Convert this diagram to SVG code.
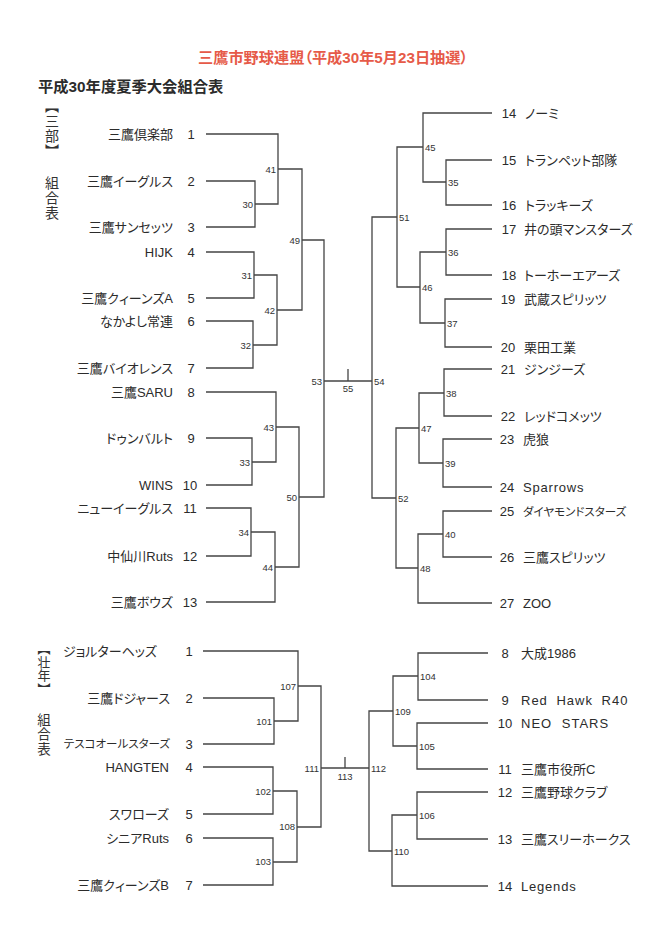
<svg xmlns="http://www.w3.org/2000/svg" width="645" height="949" viewBox="0 0 645 949">
<style>
.bg{fill:#ffffff}
.title{font-family:"Liberation Sans","Noto Sans CJK JP",sans-serif;font-size:15.2px;font-weight:bold;fill:#e65a48;font-feature-settings:"palt"}
.sub{font-family:"Liberation Sans","Noto Sans CJK JP",sans-serif;font-size:15.3px;font-weight:bold;fill:#2b2b2b;font-feature-settings:"palt"}
.vert{font-family:"Noto Sans CJK JP",sans-serif;font-size:14px;letter-spacing:1px;fill:#333;writing-mode:vertical-rl}
.nm{font-family:"Liberation Sans","Noto Sans CJK JP",sans-serif;font-size:13px;fill:#2b2b2b;font-feature-settings:"palt"}
.sm{font-size:11.5px}
.num{font-family:"Liberation Sans",sans-serif;font-size:13px;fill:#2b2b2b;text-anchor:middle}
.l{text-anchor:end}
.lb{font-family:"Liberation Sans",sans-serif;font-size:9.5px;fill:#333}
.lbl{text-anchor:end}
.lbm{text-anchor:middle}
.c path{fill:none;stroke:#444;stroke-width:1.3}
</style>
<rect class="bg" x="0" y="0" width="645" height="949"/>
<g id="header">
<text class="title" x="198" y="63">三鷹市野球連盟（平成30年5月23日抽選）</text>
<text class="sub" x="38" y="92">平成30年度夏季大会組合表</text>
</g>
<g id="section-sanbu-label">
<text class="vert" x="52" y="99">【三部】</text>
<text class="vert" x="52" y="176">組合表</text>
</g>
<g id="section-sonen-label">
<text class="vert" x="44" y="642" style="font-size:13px;letter-spacing:0.5px">【壮年】</text>
<text class="vert" x="44" y="713" style="font-size:13.5px">組合表</text>
</g>
<g class="c" id="connectors">
<path d="M206 134H278V204H255"/>
<path d="M206 181H255V227H206"/>
<path d="M278 169H302V310H277"/>
<path d="M206 252H254V298H206"/>
<path d="M254 275H277V345H253"/>
<path d="M206 321H253V368H206"/>
<path d="M302 240H324V497H299"/>
<path d="M206 392H276V462H252"/>
<path d="M206 438H252V485H206"/>
<path d="M276 427H299V567H275"/>
<path d="M206 508H251V556H206"/>
<path d="M251 532H275V602H206"/>
<path d="M324 381H372"/>
<path d="M348 369V381"/>
<path d="M492 113H423V182H446"/>
<path d="M492 160H446V205H492"/>
<path d="M423 147H397V287H420"/>
<path d="M492 229H446V275H492"/>
<path d="M446 252H420V323H445"/>
<path d="M492 299H445V347H492"/>
<path d="M397 217H372V498H396"/>
<path d="M492 369H444V416H492"/>
<path d="M444 393H419V463H443"/>
<path d="M492 439H443V487H492"/>
<path d="M419 428H396V568H418"/>
<path d="M492 511H443V557H492"/>
<path d="M443 534H418V603H492"/>
<path d="M203 651H298V721H274"/>
<path d="M203 698H274V744H203"/>
<path d="M298 686H321V827H297"/>
<path d="M203 767H273V814H203"/>
<path d="M273 791H297V862H273"/>
<path d="M203 838H273V885H203"/>
<path d="M321 768H369"/>
<path d="M345 757V768"/>
<path d="M488 653H418V700H488"/>
<path d="M418 676H393V746H417"/>
<path d="M488 723H417V769H488"/>
<path d="M393 711H369V851H392"/>
<path d="M488 792H417V839H488"/>
<path d="M417 815H392V886H488"/>
</g>
<g id="teams-sanbu-left">
<g id="t1"><text class="nm l" x="173" y="138.5">三鷹倶楽部</text><text class="num" x="191" y="138.5">1</text></g>
<g id="t2"><text class="nm l" x="173" y="185.5">三鷹イーグルス</text><text class="num" x="191" y="185.5">2</text></g>
<g id="t3"><text class="nm l" x="173" y="231.5">三鷹サンセッツ</text><text class="num" x="191" y="231.5">3</text></g>
<g id="t4"><text class="nm l" x="173" y="256.5">HIJK</text><text class="num" x="191" y="256.5">4</text></g>
<g id="t5"><text class="nm l" x="173" y="302.5">三鷹クィーンズA</text><text class="num" x="191" y="302.5">5</text></g>
<g id="t6"><text class="nm l" x="173" y="325.5">なかよし常連</text><text class="num" x="191" y="325.5">6</text></g>
<g id="t7"><text class="nm l" x="173" y="372.5">三鷹バイオレンス</text><text class="num" x="191" y="372.5">7</text></g>
<g id="t8"><text class="nm l" x="173" y="396.5">三鷹SARU</text><text class="num" x="191" y="396.5">8</text></g>
<g id="t9"><text class="nm l" x="173" y="442.5">ドゥンバルト</text><text class="num" x="191" y="442.5">9</text></g>
<g id="t10"><text class="nm l" x="173" y="489.5">WINS</text><text class="num" x="190" y="489.5">10</text></g>
<g id="t11"><text class="nm l" x="173" y="512.5">ニューイーグルス</text><text class="num" x="190" y="512.5">11</text></g>
<g id="t12"><text class="nm l" x="173" y="560.5">中仙川Ruts</text><text class="num" x="190" y="560.5">12</text></g>
<g id="t13"><text class="nm l" x="173" y="606.5">三鷹ボウズ</text><text class="num" x="190" y="606.5">13</text></g>
</g>
<g id="teams-sanbu-right">
<g id="t14"><text class="num" x="509" y="117.5">14</text><text class="nm" x="525" y="117.5">ノーミ</text></g>
<g id="t15"><text class="num" x="509" y="164.5">15</text><text class="nm" x="525" y="164.5">トランペット部隊</text></g>
<g id="t16"><text class="num" x="509" y="209.5">16</text><text class="nm" x="525" y="209.5">トラッキーズ</text></g>
<g id="t17"><text class="num" x="509" y="233.5">17</text><text class="nm" x="524" y="233.5">井の頭マンスターズ</text></g>
<g id="t18"><text class="num" x="509" y="279.5">18</text><text class="nm" x="524" y="279.5">トーホーエアーズ</text></g>
<g id="t19"><text class="num" x="508" y="303.5">19</text><text class="nm" x="524" y="303.5">武蔵スピリッツ</text></g>
<g id="t20"><text class="num" x="508" y="351.5">20</text><text class="nm" x="524" y="351.5">栗田工業</text></g>
<g id="t21"><text class="num" x="508" y="373.5">21</text><text class="nm" x="524" y="373.5">ジンジーズ</text></g>
<g id="t22"><text class="num" x="508" y="420.5">22</text><text class="nm" x="524" y="420.5">レッドコメッツ</text></g>
<g id="t23"><text class="num" x="507" y="443.5">23</text><text class="nm" x="523" y="443.5">虎狼</text></g>
<g id="t24"><text class="num" x="507" y="491.5">24</text><text class="nm" x="523" y="491.5" style="letter-spacing:0.8px">Sparrows</text></g>
<g id="t25"><text class="num" x="507" y="515.5">25</text><text class="nm sm" x="523" y="515.5">ダイヤモンドスターズ</text></g>
<g id="t26"><text class="num" x="507" y="561.5">26</text><text class="nm" x="523" y="561.5">三鷹スピリッツ</text></g>
<g id="t27"><text class="num" x="507" y="607.5">27</text><text class="nm" x="523" y="607.5">ZOO</text></g>
</g>
<g id="matches-sanbu">
<g id="m30"><text class="lb lbl" x="253" y="207.5">30</text></g>
<g id="m31"><text class="lb lbl" x="252" y="278.5">31</text></g>
<g id="m32"><text class="lb lbl" x="251" y="348.5">32</text></g>
<g id="m33"><text class="lb lbl" x="250" y="465.5">33</text></g>
<g id="m34"><text class="lb lbl" x="249" y="535.5">34</text></g>
<g id="m41"><text class="lb lbl" x="276" y="172.5">41</text></g>
<g id="m42"><text class="lb lbl" x="275" y="313.5">42</text></g>
<g id="m43"><text class="lb lbl" x="274" y="430.5">43</text></g>
<g id="m44"><text class="lb lbl" x="273" y="570.5">44</text></g>
<g id="m49"><text class="lb lbl" x="300" y="243.5">49</text></g>
<g id="m50"><text class="lb lbl" x="297" y="500.5">50</text></g>
<g id="m53"><text class="lb lbl" x="322" y="384.5">53</text></g>
<g id="m55"><text class="lb lbm" x="348" y="392">55</text></g>
<g id="m54"><text class="lb" x="374" y="384.5">54</text></g>
<g id="m35"><text class="lb" x="448" y="185.5">35</text></g>
<g id="m36"><text class="lb" x="448" y="255.5">36</text></g>
<g id="m37"><text class="lb" x="447" y="326.5">37</text></g>
<g id="m38"><text class="lb" x="446" y="396.5">38</text></g>
<g id="m39"><text class="lb" x="445" y="466.5">39</text></g>
<g id="m40"><text class="lb" x="445" y="537.5">40</text></g>
<g id="m45"><text class="lb" x="425" y="150.5">45</text></g>
<g id="m46"><text class="lb" x="422" y="290.5">46</text></g>
<g id="m47"><text class="lb" x="421" y="431.5">47</text></g>
<g id="m48"><text class="lb" x="420" y="571.5">48</text></g>
<g id="m51"><text class="lb" x="399" y="220.5">51</text></g>
<g id="m52"><text class="lb" x="398" y="501.5">52</text></g>
</g>
<g id="teams-sonen-left">
<g id="s1"><text class="nm l" x="157" y="655.5">ジョルターヘッズ</text><text class="num" x="189" y="655.5">1</text></g>
<g id="s2"><text class="nm l" x="170" y="702.5">三鷹ドジャース</text><text class="num" x="189" y="702.5">2</text></g>
<g id="s3"><text class="nm l sm" x="170" y="748">テスコオールスターズ</text><text class="num" x="189" y="748.5">3</text></g>
<g id="s4"><text class="nm l" x="169" y="771.5">HANGTEN</text><text class="num" x="189" y="771.5">4</text></g>
<g id="s5"><text class="nm l" x="169" y="818.5">スワローズ</text><text class="num" x="189" y="818.5">5</text></g>
<g id="s6"><text class="nm l" x="169" y="842.5">シニアRuts</text><text class="num" x="189" y="842.5">6</text></g>
<g id="s7"><text class="nm l" x="169" y="889.5">三鷹クィーンズB</text><text class="num" x="189" y="889.5">7</text></g>
</g>
<g id="teams-sonen-right">
<g id="s8"><text class="num" x="505" y="657.5">8</text><text class="nm" x="521" y="657.5">大成1986</text></g>
<g id="s9"><text class="num" x="505" y="704.5">9</text><text class="nm" x="521" y="704.5" style="letter-spacing:1px;word-spacing:4px">Red Hawk R40</text></g>
<g id="s10"><text class="num" x="505" y="727.5">10</text><text class="nm" x="521" y="727.5" style="letter-spacing:1px;word-spacing:5px">NEO STARS</text></g>
<g id="s11"><text class="num" x="505" y="773.5">11</text><text class="nm" x="521" y="773.5">三鷹市役所C</text></g>
<g id="s12"><text class="num" x="505" y="796.5">12</text><text class="nm" x="521" y="796.5">三鷹野球クラブ</text></g>
<g id="s13"><text class="num" x="505" y="843.5">13</text><text class="nm" x="521" y="843.5">三鷹スリーホークス</text></g>
<g id="s14"><text class="num" x="505" y="890.5">14</text><text class="nm" x="521" y="890.5" style="letter-spacing:0.8px">Legends</text></g>
</g>
<g id="matches-sonen">
<g id="m101"><text class="lb lbl" x="272" y="724.5">101</text></g>
<g id="m102"><text class="lb lbl" x="271" y="794.5">102</text></g>
<g id="m103"><text class="lb lbl" x="271" y="865">103</text></g>
<g id="m107"><text class="lb lbl" x="296" y="689.5">107</text></g>
<g id="m108"><text class="lb lbl" x="295" y="830">108</text></g>
<g id="m111"><text class="lb lbl" x="319" y="771.5">111</text></g>
<g id="m113"><text class="lb lbm" x="345" y="780">113</text></g>
<g id="m112"><text class="lb" x="371" y="771.5">112</text></g>
<g id="m104"><text class="lb" x="420" y="679.5">104</text></g>
<g id="m105"><text class="lb" x="419" y="749.5">105</text></g>
<g id="m106"><text class="lb" x="419" y="818.5">106</text></g>
<g id="m109"><text class="lb" x="395" y="714.5">109</text></g>
<g id="m110"><text class="lb" x="394" y="854.5">110</text></g>
</g>
</svg>
